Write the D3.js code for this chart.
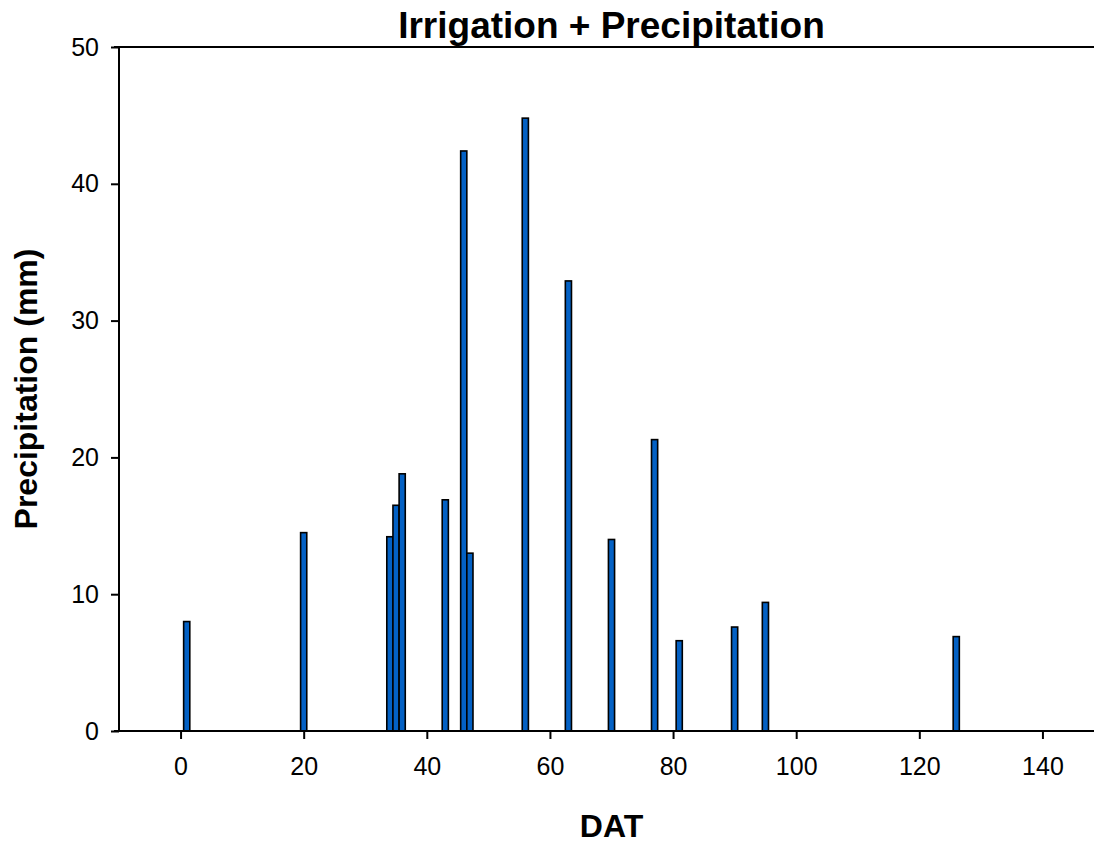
<!DOCTYPE html>
<html>
<head>
<meta charset="utf-8">
<script src="https://cdn.jsdelivr.net/npm/d3@7"></script>
<style>
  html, body { margin: 0; padding: 0; background: #fff; }
  svg { display: block; font-family: "Liberation Sans", Arial, sans-serif; }
</style>
</head>
<body>
<svg id="chart" width="1094" height="846"></svg>
<script>
// Daily irrigation + precipitation events (days after transplanting)
const days = [1, 20, 34, 35, 36, 43, 46, 47, 56, 63, 70, 77, 81, 90, 95, 126];
const precip = [8.0, 14.5, 14.2, 16.5, 18.8, 16.9, 42.4, 13.0, 44.8, 32.9, 14.0, 21.3, 6.6, 7.6, 9.4, 6.9];
const xTicks = [0, 20, 40, 60, 80, 100, 120, 140];
const yTicks = [0, 10, 20, 30, 40, 50];

const svg = d3.select("#chart");
const plotLeft = 119, plotTop = 47, plotBottom = 731, plotRight = 1104;

const x = d3.scaleLinear().domain([-10, 150]).range([plotLeft, plotRight]);
const y = d3.scaleLinear().domain([0, 50]).range([plotBottom, plotTop]);

const data = days.map((d, i) => ({ day: d, value: precip[i] }));

// bars, one day wide, centred on the day
svg.append("g")
  .selectAll("rect")
  .data(data)
  .join("rect")
  .attr("x", d => x(d.day - 0.5))
  .attr("width", d => x(d.day + 0.5) - x(d.day - 0.5))
  .attr("y", d => y(d.value))
  .attr("height", d => y(0) - y(d.value))
  .attr("fill", "#0461c4")
  .attr("stroke", "#000")
  .attr("stroke-width", 1.6);

// x axis
const xAxis = svg.append("g")
  .attr("transform", `translate(0,${plotBottom})`)
  .call(d3.axisBottom(x).tickValues(xTicks).tickSize(8).tickPadding(18).tickSizeOuter(0));
xAxis.select(".domain").remove();
xAxis.selectAll(".tick line").attr("stroke", "#000").attr("stroke-width", 2);
xAxis.selectAll(".tick text").attr("font-size", 25).attr("fill", "#000")
  .attr("font-family", "Liberation Sans, Arial, sans-serif");

// y axis
const yAxis = svg.append("g")
  .attr("transform", `translate(${plotLeft},0)`)
  .call(d3.axisLeft(y).tickValues(yTicks).tickSize(8).tickPadding(12).tickSizeOuter(0));
yAxis.select(".domain").remove();
yAxis.selectAll(".tick line").attr("stroke", "#000").attr("stroke-width", 2);
yAxis.selectAll(".tick text").attr("font-size", 25).attr("fill", "#000")
  .attr("font-family", "Liberation Sans, Arial, sans-serif");

// frame lines: top, bottom, left
svg.append("line").attr("x1", plotLeft - 5).attr("x2", plotRight).attr("y1", plotTop).attr("y2", plotTop)
  .attr("stroke", "#000").attr("stroke-width", 2);
svg.append("line").attr("x1", plotLeft - 5).attr("x2", plotRight).attr("y1", plotBottom).attr("y2", plotBottom)
  .attr("stroke", "#000").attr("stroke-width", 2);
svg.append("line").attr("x1", plotLeft).attr("x2", plotLeft).attr("y1", plotTop).attr("y2", plotBottom)
  .attr("stroke", "#000").attr("stroke-width", 2);

// titles
svg.append("text")
  .attr("x", (plotLeft + plotRight) / 2).attr("y", 38)
  .attr("text-anchor", "middle")
  .attr("font-size", 37).attr("font-weight", "bold")
  .text("Irrigation + Precipitation");

svg.append("text")
  .attr("x", (plotLeft + plotRight) / 2).attr("y", 837)
  .attr("text-anchor", "middle")
  .attr("font-size", 32).attr("font-weight", "bold")
  .text("DAT");

svg.append("text")
  .attr("transform", `translate(37,${(plotTop + plotBottom) / 2}) rotate(-90)`)
  .attr("text-anchor", "middle")
  .attr("font-size", 32).attr("font-weight", "bold")
  .text("Precipitation (mm)");
</script>
</body>
</html>
